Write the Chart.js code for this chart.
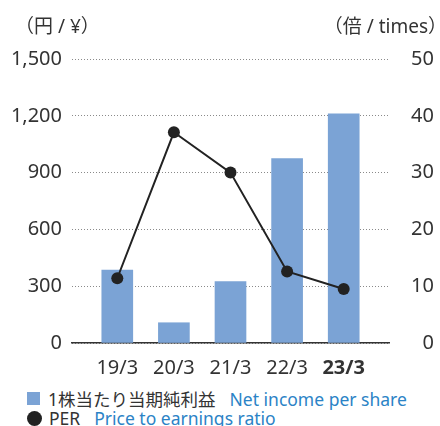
<!DOCTYPE html>
<html lang="ja">
<head>
<meta charset="utf-8">
<script src="https://cdn.jsdelivr.net/npm/chart.js@4"></script>
<style>
  body { margin: 0; background: #fff; }
  #wrap { position: relative; width: 440px; height: 426px; font-family: "Noto Sans", "Noto Sans CJK JP", sans-serif; color: #333; }
  #chart { position: absolute; left: 0; top: 0; }
  .unit { position: absolute; top: 11px; font-size: 19px; color: #333; white-space: nowrap; }
  .legend { position: absolute; left: 27px; font-size: 17.5px; white-space: nowrap; display: flex; align-items: center; }
  .legend .en { color: #2b83c6; margin-left: 14px; }
  .sq { width: 13px; height: 13px; background: #7ba3d5; margin-right: 8px; }
  .dot { width: 15px; height: 15px; border-radius: 50%; background: #222; margin-right: 7px; }
</style>
</head>
<body>
<div id="wrap">
  <canvas id="chart" width="440" height="380"></canvas>
  <div class="unit" style="left:15px">（円 / ¥）</div>
  <div class="unit" style="right:-7px">（倍 / times）</div>
  <div class="legend" style="top:386px"><span class="sq"></span><span>1株当たり当期純利益</span><span class="en">Net income per share</span></div>
  <div class="legend" style="top:406px"><span class="dot"></span><span>PER</span><span class="en">Price to earnings ratio</span></div>
</div>
<script>
/* ===== データ ===== */
const categories = ['19/3', '20/3', '21/3', '22/3', '23/3'];
const epsValues  = [385, 107, 324, 974, 1210];   // 1株当たり当期純利益 (円)
const perValues  = [11.4, 37.1, 30.0, 12.6, 9.5]; // PER (倍)
const yenTicks   = [0, 300, 600, 900, 1200, 1500];
const timesTicks = [0, 10, 20, 30, 40, 50];

const FONT = '"Noto Sans", "Noto Sans CJK JP", sans-serif';
Chart.defaults.font.family = FONT;
Chart.defaults.color = '#333';

const toPoints = vals => vals.map((v, i) => ({ x: i, y: v }));

new Chart(document.getElementById('chart'), {
  type: 'bar',
  data: {
    datasets: [
      {
        type: 'line',
        data: toPoints(perValues),
        yAxisID: 'y2',
        borderColor: '#222',
        borderWidth: 2,
        pointRadius: 6,
        pointBackgroundColor: '#222',
        pointBorderWidth: 0,
        order: 0
      },
      {
        type: 'bar',
        data: toPoints(epsValues),
        yAxisID: 'y',
        backgroundColor: '#7ba3d5',
        barThickness: 31,
        order: 1
      }
    ]
  },
  options: {
    responsive: false,
    animation: false,
    devicePixelRatio: 1,
    layout: { padding: { top: 59, left: 0, right: 6, bottom: 0 } },
    plugins: { legend: { display: false }, tooltip: { enabled: false } },
    scales: {
      x: {
        type: 'linear',
        offset: false,
        min: -0.8,
        max: categories.length - 0.2,
        afterBuildTicks: s => { s.ticks = categories.map((c, i) => ({ value: i })); },
        afterFit: s => { s.height = 37; },
        grid: { display: false, drawTicks: false },
        border: { display: true, color: '#333', width: 1.5 },
        ticks: {
          padding: 13,
          color: '#333',
          callback: v => categories[v],
          font: ctx => ({ size: 20, weight: ctx.tick && ctx.tick.value === categories.length - 1 ? 'bold' : 'normal' })
        }
      },
      y: {
        position: 'left',
        min: 0,
        max: 1500,
        afterBuildTicks: s => { s.ticks = yenTicks.map(v => ({ value: v })); },
        afterFit: s => { s.width = 72; },
        grid: { color: '#8a8a8a', lineWidth: 1, drawTicks: false },
        border: { display: false, dash: [1, 2] },
        ticks: {
          padding: 10,
          font: { size: 20 },
          callback: v => v.toLocaleString('en-US')
        }
      },
      y2: {
        position: 'right',
        min: 0,
        max: 50,
        afterBuildTicks: s => { s.ticks = timesTicks.map(v => ({ value: v })); },
        afterFit: s => { s.width = 45; },
        grid: { display: false, drawTicks: false },
        border: { display: false },
        ticks: { padding: 10, crossAlign: 'far', font: { size: 20 } }
      }
    }
  }
});
</script>
</body>
</html>
